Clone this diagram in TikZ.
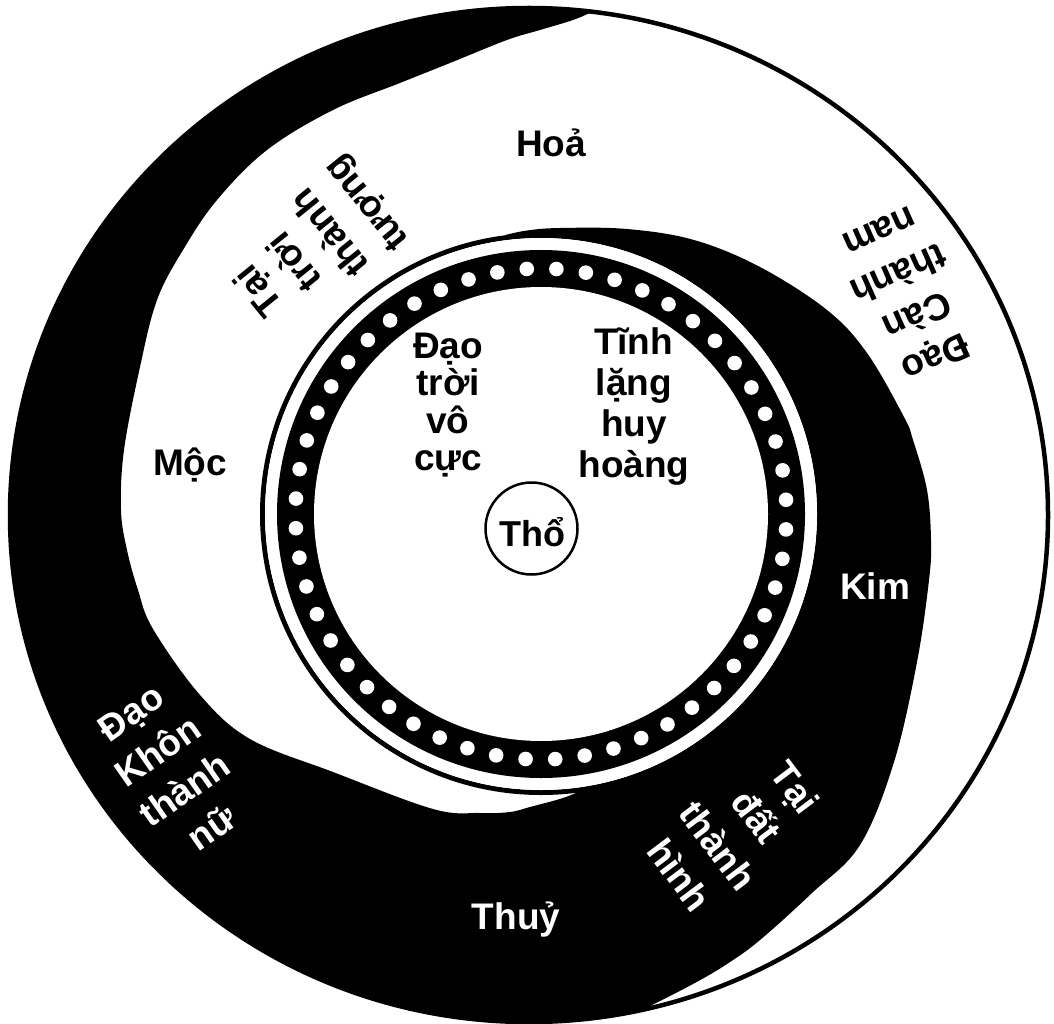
\documentclass[tikz,border=0pt]{standalone}
\usepackage{fontspec}
\setmainfont{Liberation Sans}
\lineskiplimit=-100pt
\begin{document}
\begin{tikzpicture}[x=1pt,y=-1pt,
  lbl/.style={font=\bfseries\fontsize{37}{40}\selectfont, inner sep=0pt, anchor=base},
  wlbl/.style={lbl, text=white},
  stack/.style={align=center, inner sep=0pt, anchor=center,
    font=\bfseries\fontsize{37}{#1}\selectfont},
  dotc/.style={fill=white}]
\useasboundingbox (0,0) rectangle (1054,1024);
\fill[white] (0,0) rectangle (1054,1024);
% black spiral shape
\fill[black] plot[domain=277:77.3, samples=150] ({529+519*cos(\x)},{515+507*sin(\x)})
  -- plot[smooth, tension=0.6] coordinates {(643.1,1009.6) (693,984) (727,964) (760,940) (812,893) (860,845) (894,762) (917,662) (929,580) (931,540) (927,490) (913,440) (904,417) (867,353) (827,310) (760,267) (694,240) (627,229) (560,228) (527,230.5) (505.5,235)}
  -- plot[domain=262.7:441.35, samples=120] ({541+279*cos(\x)},{514+279*sin(\x)})
  -- plot[smooth, tension=0.6] coordinates {(583,789.8) (563,798) (530,807) (510,812) (480,813) (433,809) (333,772) (250,739) (200,695) (153,629) (138,590) (127,550) (121,510) (124,450) (140,367) (157,300) (183,250) (217,200) (267,150) (333,110) (400,83) (450,63) (507,40) (540,30) (573,20) (592.3,11.8)}
  -- cycle;
% outer circle
\draw[line width=4.5pt] (529,515) ellipse [x radius=519pt, y radius=507pt];
% ring
\draw[line width=5pt] (541,514) circle[radius=278.5pt];
\fill[white] (541,514) circle[radius=276pt];
\fill[black] (541,514) circle[radius=264pt];
\fill[white] (541,514) circle[radius=227pt];
\foreach \a in {0,...,51}
  \fill[dotc] ({541+245.5*cos(3.6+\a*6.92308)},{514+245.5*sin(3.6+\a*6.92308)}) circle[radius=7.3pt];
% centre circle
\node[circle, draw, line width=2.5pt, minimum size=92pt, inner sep=0pt] (tho) at (531.5,528.5) {};
\node[lbl, font=\bfseries\fontsize{36}{38}\selectfont] (thotext) at (532,546) {Thổ};
% single labels
\node[lbl] (hoa) at (551,157) {Hoả};
\node[lbl] (moc) at (190,475) {Mộc};
\node[wlbl] (kim) at (875,599) {Kim};
\node[wlbl] (thuy) at (516,929) {Thuỷ};
% stacked labels
\node[stack=37.3] (dtvc) at (448,405) {Đạo\\trời\\vô\\cực};
\node[stack=41] (tlhh) at (634,407) {Tĩnh\\lặng\\huy\\hoàng};
\node[stack=46, rotate=129] (ttt) at (314,246) {Tại\\trời\\thành\\tượng};
\node[stack=46, rotate=204] (dctn) at (908,295) {Đạo\\Càn\\thành\\nam};
\node[stack=47, rotate=35, text=white] (dktn) at (171.5,770.5) {Đạo\\Khôn\\thành\\nữ};
\node[stack=48.5, rotate=-53, text=white] (tdth) at (737.5,831) {Tại\\đất\\thành\\hình};
\end{tikzpicture}
\end{document}
